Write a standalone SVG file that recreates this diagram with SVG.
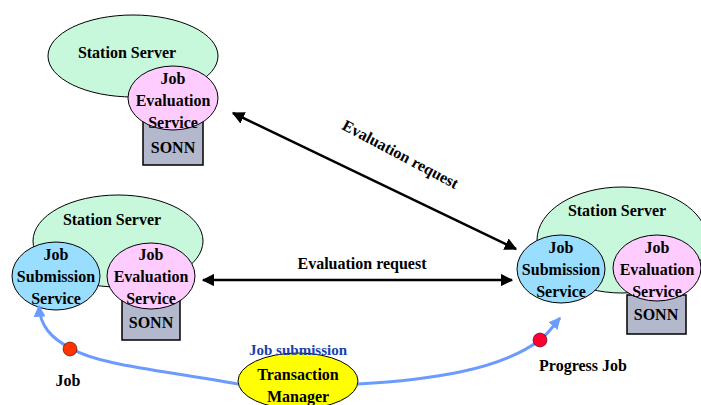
<svg xmlns="http://www.w3.org/2000/svg" width="701" height="405" viewBox="0 0 701 405">
<defs>
<style>
.srv{fill:#c8f8dc;stroke:#000;stroke-width:1}
.jes{fill:#ffccff;stroke:#000;stroke-width:1}
.jss{fill:#99ddff;stroke:#000;stroke-width:1}
.sonn{fill:#b3b8cc;stroke:#000;stroke-width:1.5}
text{font-family:"Liberation Serif","Times New Roman",serif;font-weight:bold;font-size:16px;text-anchor:middle;fill:#000}
.conn{stroke:#000;stroke-width:2.5;fill:none}
.flow{stroke:#6b9bff;stroke-width:3;fill:none}
</style>
<marker id="ah" viewBox="0 0 10 10" refX="9" refY="5" markerWidth="5" markerHeight="5" orient="auto-start-reverse" markerUnits="strokeWidth"><path d="M0,0 L10,5 L0,10 z" fill="#000"/></marker>
<marker id="bh" viewBox="0 0 10 10" refX="9" refY="5" markerWidth="4" markerHeight="4" orient="auto" markerUnits="strokeWidth"><path d="M0,0 L10,5 L0,10 z" fill="#6b9bff"/></marker>
</defs>

<g id="top-server">
<ellipse class="srv" cx="133" cy="56" rx="85" ry="41"/>
<text x="127" y="58">Station Server</text>
<rect class="sonn" x="143" y="118" width="60" height="47"/>
<ellipse class="jes" cx="173" cy="98" rx="45" ry="32"/>
<text x="173" y="84">Job</text>
<text x="173" y="106">Evaluation</text>
<text x="173" y="128">Service</text>
<text x="173" y="153">SONN</text>
</g>

<g id="left-server">
<ellipse class="srv" cx="118" cy="241" rx="85" ry="46"/>
<text x="112" y="225">Station Server</text>
<rect class="sonn" x="122" y="300" width="58" height="40"/>
<ellipse class="jss" cx="56" cy="276" rx="44" ry="34"/>
<text x="56" y="260">Job</text>
<text x="56" y="282">Submission</text>
<text x="56" y="304">Service</text>
<ellipse class="jes" cx="151" cy="276" rx="44" ry="33"/>
<text x="151" y="260">Job</text>
<text x="151" y="282">Evaluation</text>
<text x="151" y="304">Service</text>
<text x="151" y="328">SONN</text>
</g>

<g id="right-server">
<ellipse class="srv" cx="622" cy="240" rx="85" ry="53"/>
<text x="617" y="216">Station Server</text>
<rect class="sonn" x="627" y="295" width="59" height="39"/>
<ellipse class="jss" cx="561" cy="269" rx="44" ry="34"/>
<text x="561" y="253">Job</text>
<text x="561" y="275">Submission</text>
<text x="561" y="297">Service</text>
<ellipse class="jes" cx="657" cy="268" rx="44" ry="33"/>
<text x="657" y="253">Job</text>
<text x="657" y="275">Evaluation</text>
<text x="657" y="297">Service</text>
<text x="656" y="320">SONN</text>
</g>

<g id="transaction-manager">
<ellipse cx="298" cy="381" rx="60" ry="28" fill="#ffff00" stroke="#000" stroke-width="1"/>
<text x="298" y="380">Transaction</text>
<text x="298" y="402">Manager</text>
</g>

<g id="connectors">
<line class="conn" x1="233" y1="113" x2="516" y2="249" marker-start="url(#ah)" marker-end="url(#ah)"/>
<line class="conn" x1="203" y1="280" x2="512" y2="280" marker-start="url(#ah)" marker-end="url(#ah)"/>
<path class="flow" d="M238,384 C160,370 100,365 72,349 C50,338 40,325 39,306" marker-end="url(#bh)"/>
<path class="flow" d="M358,384 C430,380 500,370 540,340 C548,334 553,326 560,318" marker-end="url(#bh)"/>
</g>

<g id="labels">
<text x="362" y="269">Evaluation request</text>
<text x="398" y="159" transform="rotate(28 398 159)">Evaluation request</text>
<text x="298" y="355" style="fill:#1a3fb0;font-size:15px">Job submission</text>
<circle cx="70" cy="349" r="7" fill="#ff3300" stroke="#000" stroke-width="0.5"/>
<circle cx="540" cy="340" r="7" fill="#ff0033" stroke="#000" stroke-width="0.5"/>
<text x="68" y="386">Job</text>
<text x="583" y="371">Progress Job</text>
</g>
</svg>
